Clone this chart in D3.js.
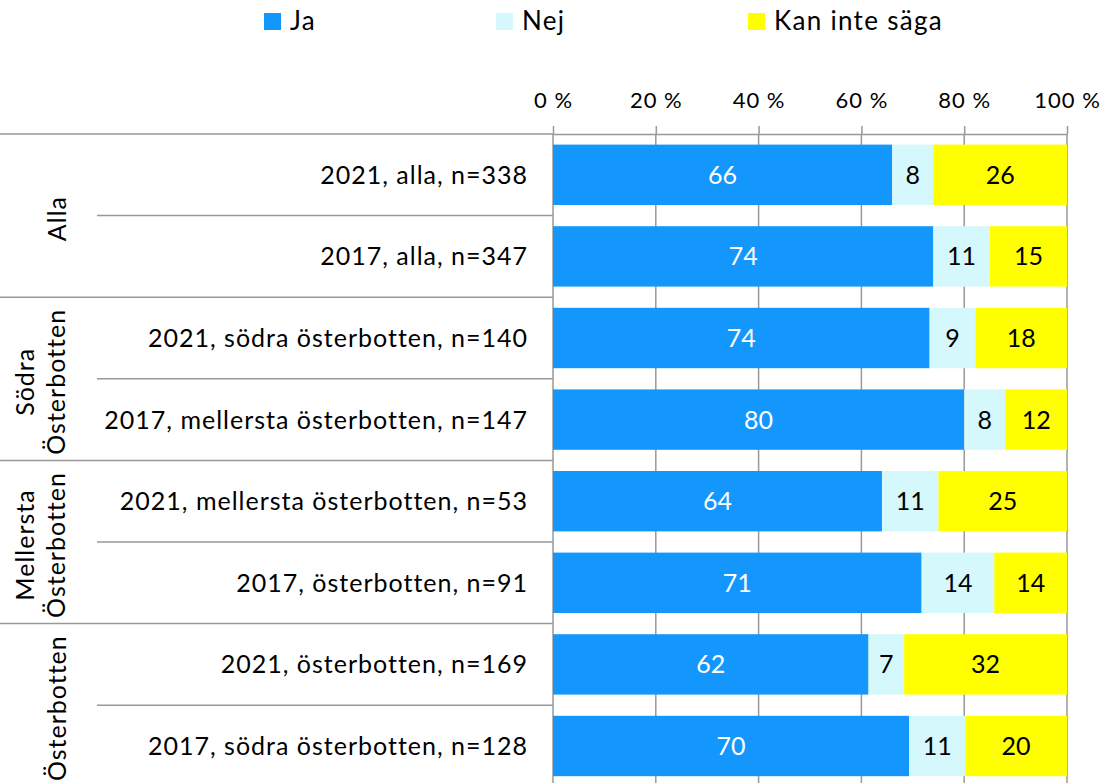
<!DOCTYPE html>
<html>
<head>
<meta charset="utf-8">
<script src="https://cdn.jsdelivr.net/npm/d3@7"></script>
<style>
  body { margin: 0; background: #fff; }
  text { font-family: Lato, "Open Sans", sans-serif; fill: #000; }
</style>
</head>
<body>
<svg id="chart" width="1102" height="783"></svg>
<script>
// data
var rows = [
  "2021, alla, n=338",
  "2017, alla, n=347",
  "2021, södra österbotten, n=140",
  "2017, mellersta österbotten, n=147",
  "2021, mellersta österbotten, n=53",
  "2017, österbotten, n=91",
  "2021, österbotten, n=169",
  "2017, södra österbotten, n=128"
];
var groups = [["Alla"], ["Södra", "Österbotten"], ["Mellersta", "Österbotten"], ["Österbotten"]];
var series = ["Ja", "Nej", "Kan inte säga"];
var ja = [66, 74, 74, 80, 64, 71, 62, 70];
var nej = [8, 11, 9, 8, 11, 14, 7, 11];
var kan = [26, 15, 18, 12, 25, 14, 32, 20];
var ticks = [0, 0.2, 0.4, 0.6, 0.8, 1];

var colors = ["#1497fc", "#d5f8fd", "#ffff00"];
var labelColors = ["#fff", "#000", "#000"];

var table = rows.map(function (r, i) {
  return { row: r, "Ja": ja[i], "Nej": nej[i], "Kan inte säga": kan[i] };
});

var svg = d3.select("#chart"),
  plotLeft = 553, plotRight = 1067, plotTop = 134;

var x = d3.scaleLinear().domain([0, 1]).range([plotLeft, plotRight]);
var y = d3.scaleBand().domain(rows).range([plotTop, plotTop + 8 * 81.6])
  .paddingInner(0.26).paddingOuter(0.13);

var stacked = d3.stack().keys(series).offset(d3.stackOffsetExpand)(table);

// top axis
svg.append("g")
  .attr("transform", "translate(0," + plotTop + ")")
  .call(d3.axisTop(x).tickValues(ticks).tickSize(8).tickSizeOuter(0).tickFormat(function (d) { return Math.round(d * 100) + " %"; }))
  .call(function (g) {
    g.select(".domain").attr("stroke", "#999").attr("stroke-width", 1.5);
    g.selectAll(".tick line").attr("stroke", "#999").attr("stroke-width", 1.5);
    g.selectAll(".tick text")
      .attr("font-size", 22)
      .attr("font-family", "Lato")
      .attr("letter-spacing", 1)
      .attr("y", -26)
      .attr("dy", 0)
      .attr("fill", "#000");
  });

// gridlines
svg.append("g")
  .selectAll("line")
  .data(ticks)
  .enter()
  .append("line")
  .attr("x1", function (d) { return x(d); })
  .attr("x2", function (d) { return x(d); })
  .attr("y1", plotTop)
  .attr("y2", 783)
  .attr("stroke", "#999")
  .attr("stroke-width", 1.5);

// bars
var layer = svg.append("g")
  .selectAll("g")
  .data(stacked)
  .enter()
  .append("g")
  .attr("fill", function (d, i) { return colors[i]; });

layer.selectAll("rect")
  .data(function (d) { return d; })
  .enter()
  .append("rect")
  .attr("x", function (d) { return x(d[0]); })
  .attr("y", function (d) { return y(d.data.row); })
  .attr("width", function (d) { return x(d[1]) - x(d[0]); })
  .attr("height", y.bandwidth());

// value labels
stacked.forEach(function (s, i) {
  svg.append("g")
    .selectAll("text")
    .data(s)
    .enter()
    .append("text")
    .attr("x", function (d) { return (x(d[0]) + x(d[1])) / 2; })
    .attr("y", function (d) { return y(d.data.row) + y.bandwidth() / 2; })
    .attr("dy", "0.36em")
    .attr("text-anchor", "middle")
    .attr("font-size", 25)
    .style("fill", labelColors[i])
    .text(function (d) { return d.data[s.key]; });
});

// left category axis: separators
var step = y.step();
rows.forEach(function (r, i) {
  var yy = plotTop + i * step;
  svg.append("line")
    .attr("x1", i % 2 === 0 ? 0 : 97)
    .attr("x2", plotLeft)
    .attr("y1", yy).attr("y2", yy)
    .attr("stroke", "#999").attr("stroke-width", 1.5);
});
svg.append("line").attr("x1", 0).attr("x2", plotLeft)
  .attr("y1", plotTop + 8 * step).attr("y2", plotTop + 8 * step)
  .attr("stroke", "#999").attr("stroke-width", 1.5);

// row labels
svg.append("g")
  .selectAll("text")
  .data(rows)
  .enter()
  .append("text")
  .attr("x", 528)
  .attr("y", function (d) { return y(d) + y.bandwidth() / 2; })
  .attr("dy", "0.36em")
  .attr("text-anchor", "end")
  .attr("font-size", 25)
  .attr("letter-spacing", 1)
  .text(function (d) { return d; });

// group labels (rotated)
groups.forEach(function (g, i) {
  var cy = plotTop + (i * 2 + 1) * step + 3;
  var t = svg.append("text")
    .attr("transform", "translate(0," + cy + ") rotate(-90)")
    .attr("text-anchor", "middle")
    .attr("font-size", 25)
    .attr("letter-spacing", 1);
  if (g.length === 1) {
    t.append("tspan").attr("x", 0).attr("y", 66).text(g[0]);
  } else {
    t.append("tspan").attr("x", 0).attr("y", 34).text(g[0]);
    t.append("tspan").attr("x", 0).attr("y", 65).text(g[1]);
  }
});

// legend
var legendX = [264, 496, 748];
var legend = svg.append("g")
  .selectAll("g")
  .data(series)
  .enter()
  .append("g")
  .attr("transform", function (d, i) { return "translate(" + legendX[i] + ",13)"; });
legend.append("rect").attr("width", 17).attr("height", 17)
  .attr("fill", function (d, i) { return colors[i]; });
legend.append("text").attr("x", 26).attr("y", 17)
  .attr("font-size", 26).attr("letter-spacing", 1.3)
  .text(function (d) { return d; });
</script>
</body>
</html>
